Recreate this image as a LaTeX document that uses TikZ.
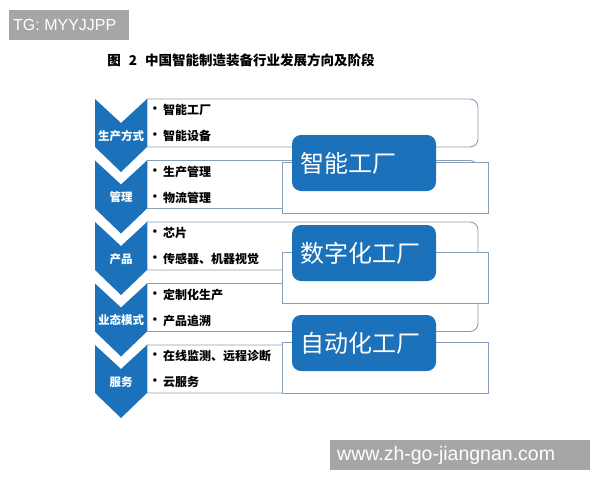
\documentclass[tikz,border=0pt]{standalone}
\usepackage{fontspec}
\setmainfont{Liberation Sans}
\newfontfamily\cjk{Noto Sans CJK SC}
\definecolor{chevblue}{RGB}{28,114,186}
\definecolor{boxline}{RGB}{138,158,184}
\definecolor{markgray}{RGB}{166,166,166}

\begin{document}
\begin{tikzpicture}[x=1pt,y=-1pt,
  chev/.style={fill=chevblue},
  listbox/.style={draw=boxline,fill=white,line width=0.9pt},
  stagebg/.style={draw=boxline,fill=white,line width=0.9pt},
  stagebox/.style={fill=chevblue,rounded corners=9pt,text=white,
    minimum height=56pt,text width=128pt,inner xsep=8pt,align=left,
    font=\cjk\fontsize{24}{24}\selectfont},
  chevlab/.style={text=white,inner sep=0pt,font=\cjk\bfseries\fontsize{11.5}{12}\selectfont},
  item/.style={anchor=west,inner sep=0pt,font=\cjk\bfseries\fontsize{12}{12}\selectfont},
  dot/.style={inner sep=0pt,font=\bfseries\fontsize{12}{12}\selectfont},
  wmtext/.style={text=white,anchor=west,inner sep=0pt},
]
\useasboundingbox (0,0) rectangle (600,480);

% watermark and title
\fill[markgray] (9,10) rectangle (129,40);
\node[wmtext,font=\fontsize{16}{16}\selectfont] (tg) at (13,25) {TG: MYYJJPP};
\node[font=\cjk\bfseries\fontsize{13.5}{14}\selectfont] (title) at (241,60)
  {图\hspace{8pt}2\hspace{8pt}中国智能制造装备行业发展方向及阶段};

% chevrons with list boxes
\foreach \lab/\one/\two [count=\i from 0] in {
  生产方式/智能工厂/智能设备,
  管理/生产管理/物流管理,
  产品/芯片/传感器、机器视觉,
  业态模式/定制化生产/产品追溯,
  服务/在线监测、远程诊断/云服务}
{
  \pgfmathsetmacro\t{99+61.5*\i}
  \draw[listbox] (147,\t) -- (300,\t) [rounded corners=8pt] -- (478,\t)
    -- (478,\t+48) -- (300,\t+48) [sharp corners] -- (147,\t+48) -- cycle;
  \fill[chev] (95,\t) -- (121,\t+24) -- (147,\t) -- (147,\t+48)
    -- (121,\t+73) -- (95,\t+48) -- cycle;
  \node[chevlab] (lab\i) at (121,\t+37) {\lab};
  \node[dot] (dota\i) at (155,\t+11) {•};
  \node[item] (itema\i) at (163,\t+11) {\one};
  \node[dot] (dotb\i) at (155,\t+37) {•};
  \node[item] (itemb\i) at (163,\t+37) {\two};
}

% stages
\foreach \name [count=\k from 0] in {智能工厂,数字化工厂,自动化工厂}
{
  \pgfmathsetmacro\s{90*\k}
  \draw[stagebg] (282,162+\s) rectangle (488,213+\s);
  \node[stagebox] (stage\k) at (364,163+\s) {\name};
}

% bottom watermark
\fill[markgray] (330,440) rectangle (590,470);
\node[wmtext,font=\fontsize{19.5}{20}\selectfont] (web) at (337,455) {www.zh-go-jiangnan.com};
\end{tikzpicture}
\end{document}
